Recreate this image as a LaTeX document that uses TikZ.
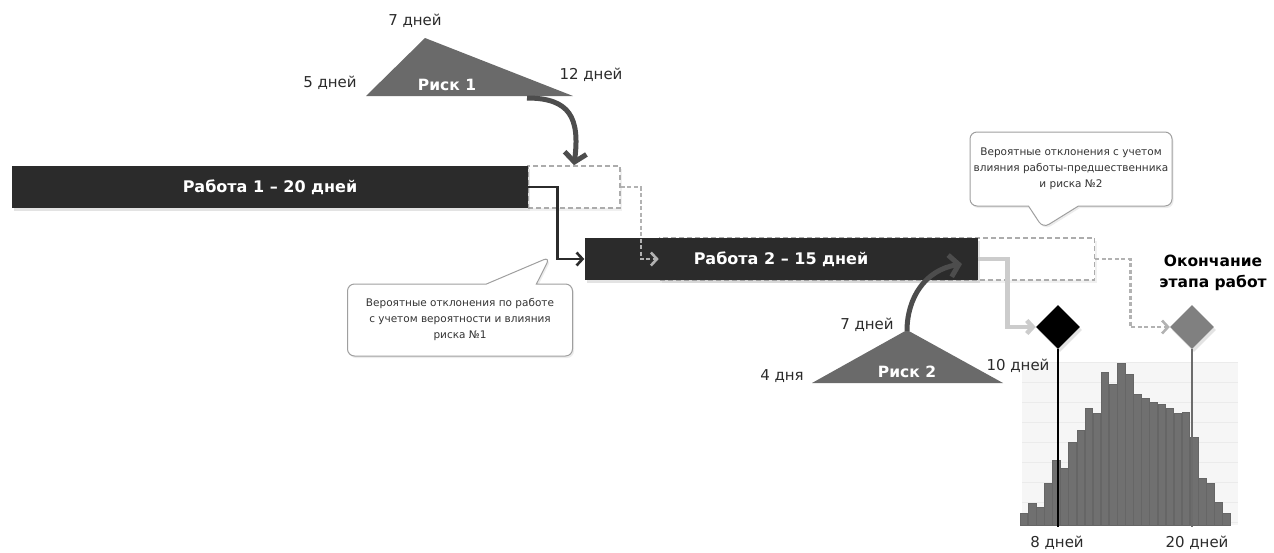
\documentclass[tikz,border=0pt]{standalone}
\usepackage{fontspec}
\setmainfont{DejaVu Sans}
\usetikzlibrary{arrows.meta,positioning,shapes.geometric,shapes.callouts,shadows}
\definecolor{bardark}{HTML}{2B2B2B}
\definecolor{riskgray}{HTML}{6A6A6A}
\definecolor{arrgray}{HTML}{4D4D4D}
\definecolor{histgray}{HTML}{707070}

\begin{document}
\begin{tikzpicture}[x=1pt, y=-1pt,
  bar/.style={fill=bardark, text=white, font=\bfseries\fontsize{16}{18}\selectfont,
              minimum height=42pt, inner sep=0pt,
              drop shadow={shadow xshift=2pt, shadow yshift=-3pt, opacity=.22}},
  gap/.style={draw=gray!65, fill=white, line width=1.6pt, dash pattern=on 5pt off 3pt,
              minimum height=42pt, inner sep=0pt,
              drop shadow={shadow xshift=2pt, shadow yshift=-3pt, opacity=.12}},
  lbl/.style={font=\fontsize{15}{17}\selectfont, text=bardark, inner sep=1pt},
  rsk/.style={font=\bfseries\fontsize{15.5}{17}\selectfont, text=white, inner sep=1pt},
  ms/.style={diamond, aspect=1, minimum size=44pt, inner sep=0pt,
             drop shadow={shadow xshift=2pt, shadow yshift=-3pt, opacity=.22}},
  call/.style={rectangle callout, rounded corners=7pt, draw=gray!75, fill=white,
               line width=1pt, align=center, inner sep=3pt, callout pointer width=50pt,
               font=\fontsize{10.5}{16}\selectfont, text=black!80,
               drop shadow={shadow xshift=1.5pt, shadow yshift=-2pt, opacity=.15}},
  con/.style={line width=2.6pt, -{Straight Barb[length=6pt,width=13pt]}},
  riskarr/.style={line width=5pt, draw=arrgray, -{Straight Barb[length=9pt,width=22pt]}}]
\useasboundingbox (0,0) rectangle (1274,552);

\fill[riskgray] (366,96) -- (425,38) -- (573,96) -- cycle;
\node[rsk] (k1) at (447,85) {Риск 1};
\node[lbl] (t1) at (415,21) {7 дней};
\node[lbl] (l1) at (330,83) {5 дней};
\node[lbl] (h1) at (591,75) {12 дней};
\coordinate (a1) at (527,98);

\node[gap, minimum width=92pt] (d1) at (574,187) {};
\node[bar, minimum width=516pt] (w1) at (270,187) {Работа 1 – 20 дней};
\node[gap, minimum width=435pt] (d2) at (877,259) {};
\node[bar, minimum width=393pt] (w2) at (781,259) {Работа 2 – 15 дней};

\draw[riskarr] (a1) .. controls (570,98) and (580,118) .. (d1.north);
\draw[con, draw=bardark] (w1.east) -- ++(29,0) |- (w2.west);
\draw[con, draw=gray!60, dash pattern=on 4pt off 2.5pt] (d1.east) -- ++(20,0) |- (d2.west);

\node[call, minimum width=225pt, minimum height=72pt,
      callout absolute pointer={(550,257)}] (c1) at (460,320)
  {Вероятные отклонения по работе\\с учетом вероятности и влияния\\риска №1};
\node[call, minimum width=202pt, minimum height=74pt,
      callout absolute pointer={(1043,228)}] (c2) at (1071,169)
  {Вероятные отклонения с учетом\\влияния работы-предшественника\\и риска №2};

\fill[riskgray] (812,383) -- (907,330) -- (1003,383) -- cycle;
\node[rsk] (k2) at (907,372) {Риск 2};
\node[lbl] (t2) at (867,325) {7 дней};
\node[lbl] (l2) at (782,376) {4 дня};
\coordinate (a2) at (907,331);
\coordinate (e2) at (962,264);
\draw[riskarr] (a2) .. controls (907,298) and (925,270) .. (e2);

\fill[gray!7] (1022,362) rectangle (1238,525);
\foreach \y in {362,382,...,522} \draw[gray!16, line width=.6pt] (1022,\y) -- (1238,\y);
\foreach \h [count=\i from 0] in {12,22,18,42,65,57,83,95,117,112,153,141,162,151,
                                  131,127,123,121,117,112,113,88,47,42,23,12}
  \filldraw[fill=histgray, draw=gray!80!black, line width=.4pt]
    ({1020+\i*8.1},525) rectangle ++(7.6,-\h);
\node[lbl] (h2) at (1018,366) {10 дней};

\node[ms, fill=black] (m1) at (1058,327) {};
\node[ms, fill=gray] (m2) at (1192,327) {};
\coordinate (b1) at (1058,527);
\coordinate (b2) at (1192,527);
\draw[line width=2.4pt, black] (m1.south) -- (b1);
\draw[line width=2.4pt, gray!85!black] (m2.south) -- (b2);

\draw[con, draw=gray!40, line width=4.5pt] (w2.east) -- ++(30,0) |- (m1.west);
\draw[con, draw=gray!60, dash pattern=on 4pt off 2.5pt] (d2.east) -- ++(35,0) |- (m2.west);

\node[font=\bfseries\fontsize{15.5}{21}\selectfont, align=center] (fin) at (1213,273)
  {Окончание\\этапа работ};
\node[lbl] (x1) at (1057,543) {8 дней};
\node[lbl] (x2) at (1197,543) {20 дней};
\end{tikzpicture}
\end{document}
